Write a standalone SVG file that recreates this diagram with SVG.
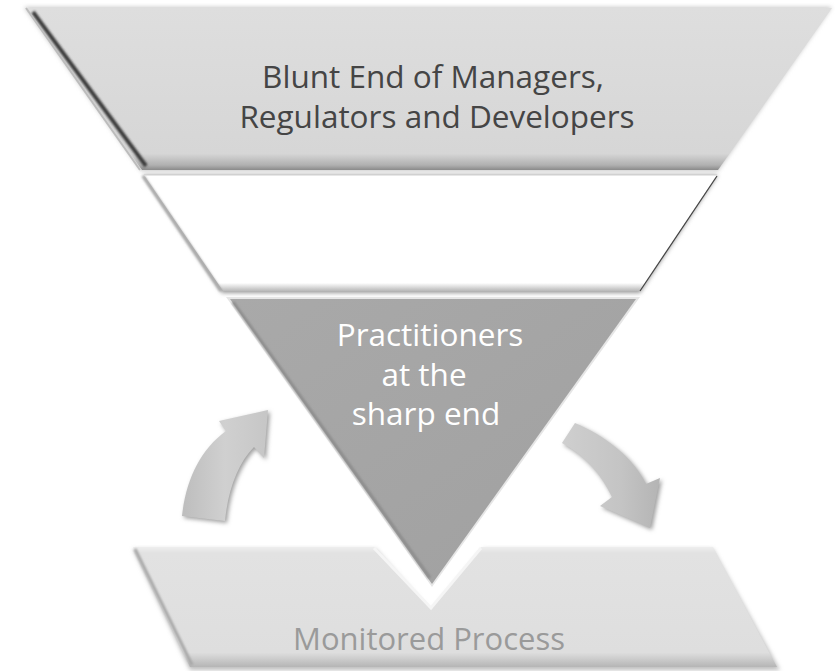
<svg xmlns="http://www.w3.org/2000/svg" width="835" height="671" viewBox="0 0 835 671">
  <defs>
    <linearGradient id="gTop" x1="0" y1="0" x2="0" y2="1">
      <stop offset="0" stop-color="#dedede"/>
      <stop offset="0.9" stop-color="#d6d6d6"/>
      <stop offset="0.97" stop-color="#b0b0b0"/>
      <stop offset="1" stop-color="#8a8a8a"/>
    </linearGradient>
    <linearGradient id="gBand" x1="0" y1="0" x2="0" y2="1">
      <stop offset="0" stop-color="#ffffff"/>
      <stop offset="0.93" stop-color="#ffffff"/>
      <stop offset="1" stop-color="#b8b8b8"/>
    </linearGradient>
    <linearGradient id="gTri" x1="0" y1="0" x2="1" y2="1">
      <stop offset="0" stop-color="#a9a9a9"/>
      <stop offset="1" stop-color="#a0a0a0"/>
    </linearGradient>
    <linearGradient id="gPlate" x1="0" y1="0" x2="0" y2="1">
      <stop offset="0" stop-color="#eeeeee"/>
      <stop offset="0.05" stop-color="#e2e2e2"/>
      <stop offset="0.88" stop-color="#dedede"/>
      <stop offset="1" stop-color="#b5b5b5"/>
    </linearGradient>
    <linearGradient id="gArrowL" x1="0" y1="0" x2="1" y2="0">
      <stop offset="0" stop-color="#bdbdbd"/>
      <stop offset="0.5" stop-color="#d0d0d0"/>
      <stop offset="1" stop-color="#c6c6c6"/>
    </linearGradient>
    <linearGradient id="gArrowR" x1="0" y1="0" x2="1" y2="0">
      <stop offset="0" stop-color="#cfcfcf"/>
      <stop offset="0.6" stop-color="#c4c4c4"/>
      <stop offset="1" stop-color="#b4b4b4"/>
    </linearGradient>
    <filter id="soft" x="-10%" y="-10%" width="120%" height="120%">
      <feGaussianBlur stdDeviation="2"/>
    </filter>
    <filter id="blur1" x="-10%" y="-10%" width="120%" height="120%">
      <feGaussianBlur stdDeviation="1.2"/>
    </filter>
  </defs>
  <style>
    .lbl { font-family: "Open Sans", "DejaVu Sans", sans-serif; text-anchor: middle; }
    .dark { fill: #454545; font-size: 31.5px; }
    .white { fill: #ffffff; font-size: 31.5px; }
    .grey { fill: #9a9a9a; font-size: 31px; }
  </style>
  <rect width="835" height="671" fill="#ffffff"/>

  <g id="blunt-end">
    <polygon points="24,7 832,7 718,171 141,171" fill="#c8c8c8" filter="url(#soft)"/>
    <polygon points="27,8 832,8 718,170 142,170" fill="url(#gTop)"/>
    <line x1="33" y1="12" x2="146" y2="166" stroke="#3a3a3a" stroke-width="4" filter="url(#blur1)"/>
    <line x1="26" y1="8" x2="140" y2="170" stroke="#bcbcbc" stroke-width="2"/>
    <text class="lbl dark" x="433" y="88">Blunt End of Managers,</text>
    <text class="lbl dark" x="437" y="128">Regulators and Developers</text>
  </g>

  <g id="middle-layer">
    <polygon points="143,175 718,175 640,293 222,293" fill="#999" filter="url(#soft)"/>
    <polygon points="144,175 717,175 640,291 223,291" fill="url(#gBand)"/>
    <line x1="143" y1="176" x2="221" y2="291" stroke="#a8a8a8" stroke-width="3" filter="url(#blur1)"/>
    <line x1="717" y1="176" x2="640" y2="291" stroke="#444" stroke-width="1.2"/>
    <line x1="144" y1="175" x2="717" y2="175" stroke="#cfcfcf" stroke-width="1"/>
  </g>

  <g id="sharp-end">
    <polygon points="226,297 640,297 432,587" fill="#e6e6e6"/>
    <polygon points="230,299 636,299 432,584" fill="url(#gTri)"/>
    <line x1="233" y1="302" x2="430" y2="578" stroke="#8c8c8c" stroke-width="3" filter="url(#blur1)"/>
    <text class="lbl white" x="430" y="346">Practitioners</text>
    <text class="lbl white" x="424" y="386">at the</text>
    <text class="lbl white" x="426" y="425">sharp end</text>
  </g>

  <g id="monitored-process">
    <polygon points="133,549 376,549 431,612 484,549 713,549 780,670 190,670" fill="#bdbdbd" filter="url(#soft)"/>
    <polygon points="133,547 374,547 431,608 481,547 713,547 777,667 190,667" fill="url(#gPlate)"/>
    <polyline points="135,549 192,665" fill="none" stroke="#a6a6a6" stroke-width="3" filter="url(#blur1)"/>
    <polyline points="374,548 431,608 481,548" fill="none" stroke="#f5f5f5" stroke-width="3"/>
    <text class="lbl grey" x="429" y="650">Monitored Process</text>
  </g>

  <g id="connectors">
    <path d="M182,516 C186,480 200,450 226,431 L219,421 L268,410 L264,458 L254,447 C238,463 228,490 225,521 Z" fill="#9e9e9e" filter="url(#soft)" transform="translate(2,2)"/>
    <path d="M182,516 C186,480 200,450 226,431 L219,421 L268,410 L264,458 L254,447 C238,463 228,490 225,521 Z" fill="url(#gArrowL)"/>
    <path d="M575,423 C605,436 632,456 646,484 L660,478 L650,528 L600,506 L612,497 C602,476 586,456 562,443 Z" fill="#9e9e9e" filter="url(#soft)" transform="translate(2,2)"/>
    <path d="M575,423 C605,436 632,456 646,484 L660,478 L650,528 L600,506 L612,497 C602,476 586,456 562,443 Z" fill="url(#gArrowR)"/>
  </g>
</svg>
